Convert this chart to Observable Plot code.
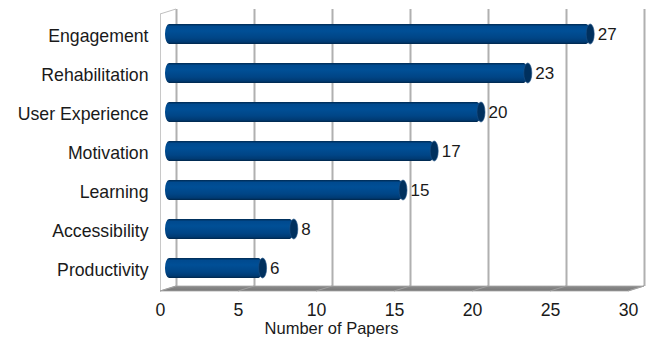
<!DOCTYPE html>
<html><head><meta charset="utf-8">
<script src="https://cdn.jsdelivr.net/npm/d3@7"></script>
<script src="https://cdn.jsdelivr.net/npm/@observablehq/plot@0.6"></script>
<style>html,body{margin:0;padding:0;background:#fff} svg{display:block}</style>
</head><body><div id="chart"></div>
<script>
const categories = ["Engagement","Rehabilitation","User Experience","Motivation","Learning","Accessibility","Productivity"];
const values = [27,23,20,17,15,8,6];
const xTicks = [0,5,10,15,20,25,30];
const xLabel = "Number of Papers";

const data = categories.map((c,i)=>({category:c, value:values[i]}));

const W=646,H=341, mL=160, mR=18, mT=14, mB=50;
const depthX=16, depthY=-5;
const barDX=9, barDY=-2;

const plot = Plot.plot({
  width: W, height: H, marginLeft: mL, marginRight: mR, marginTop: mT, marginBottom: mB,
  style: {fontFamily: "'Liberation Sans', Arial, sans-serif", fontSize: "17.7px", color:"#1a1a1a", background:"#fff"},
  x: {domain:[0,30], ticks: xTicks, tickSize:0, tickPadding: 12, label: null},
  y: {domain: categories, paddingInner:0.5, paddingOuter:0.25, tickSize:0, tickPadding:12, label:null},
  marks: [
    Plot.ruleX(xTicks, {stroke:"#b0b0b0", strokeWidth:2, dx: depthX, dy: depthY}),
    Plot.ruleX([0], {stroke:"#c8c8c8", strokeWidth:1}),
    Plot.barX(data, {x1:0, x2:"value", y:"category", fill:"url(#cyl)", insetLeft:-4, rx:4, ry:10, dx:barDX, dy:barDY}),
    Plot.barX(data, {x1:"value", x2:"value", y:"category", fill:"#00305e", stroke:"#1b4f85", strokeWidth:0.6, insetLeft:-4, insetRight:-4, rx:4, ry:10, dx:barDX, dy:barDY}),
    Plot.text(data, {x:"value", y:"category", text: d=>String(d.value), textAnchor:"start", dx: barDX+7, dy: barDY, fontSize:17, fill:"#1a1a1a"}),
    Plot.text([xLabel], {frameAnchor:"bottom", text: d=>d, dx:-63, dy: 42, fontSize:16.5, fill:"#1a1a1a"})
  ]
});
document.getElementById("chart").appendChild(plot);

// 3D decorations using the plot's own x scale
const svg = d3.select(plot);
const xs = plot.scale("x");
const x = d3.scaleLinear(xs.domain, xs.range);
const y0 = H - mB, yTop = mT;

const defs = svg.insert("defs", ":first-child");
const g = defs.append("linearGradient").attr("id","cyl").attr("x1",0).attr("y1",0).attr("x2",0).attr("y2",1);
[[0,"#002a52"],[0.12,"#004a8f"],[0.35,"#004f96"],[0.7,"#004586"],[0.9,"#003a72"],[1,"#00264a"]]
  .forEach(([o,c])=>g.append("stop").attr("offset",o).attr("stop-color",c));
const fg = defs.append("linearGradient").attr("id","floor").attr("x1",0).attr("y1",0).attr("x2",0).attr("y2",1);
[[0,"#8c8c8c"],[1,"#777777"]].forEach(([o,c])=>fg.append("stop").attr("offset",o).attr("stop-color",c));

const firstBar = plot.querySelector('g[aria-label="bar"]');
const deco = svg.insert("g", () => firstBar);
deco.append("path")
  .attr("d", `M${x(0)},${y0}L${x(30)},${y0}L${x(30)+depthX},${y0+depthY}L${x(0)+depthX},${y0+depthY}Z`)
  .attr("fill","url(#floor)").attr("stroke","#a6a6a6").attr("stroke-width",0.8);
xTicks.forEach(t=>{
  deco.append("line").attr("x1",x(t)).attr("y1",y0).attr("x2",x(t)+depthX).attr("y2",y0+depthY)
    .attr("stroke","#a0a0a0").attr("stroke-width",1);
});
deco.append("line").attr("x1",x(0)).attr("y1",yTop).attr("x2",x(0)+depthX).attr("y2",yTop+depthY)
  .attr("stroke","#c0c0c0").attr("stroke-width",1);
</script>
</body></html>
